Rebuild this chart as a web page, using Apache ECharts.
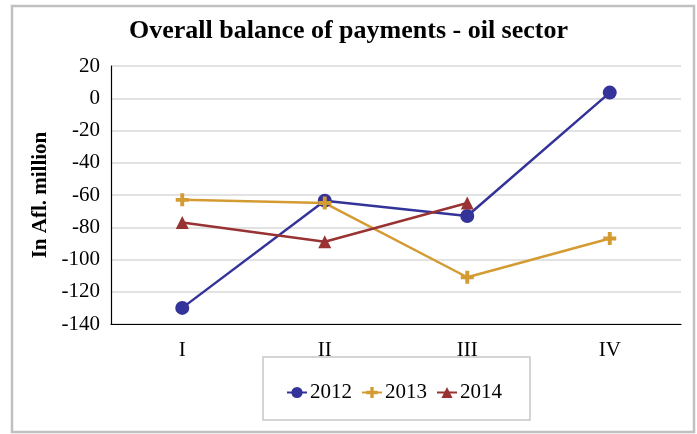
<!DOCTYPE html>
<html><head><meta charset="utf-8">
<script src="https://cdn.jsdelivr.net/npm/echarts@6/dist/echarts.min.js"></script>
<style>html,body{margin:0;padding:0;background:#fff}#c{width:697px;height:434px}</style>
</head><body><div id="c"></div>
<script>
const categories = ['I', 'II', 'III', 'IV'];
const s2012 = [-130, -63.5, -73, 3.5];
const s2013 = [-63, -65, -111, -87];
const s2014 = [-77, -89, -65, null];
const yTicks = { min: -140, max: 20, interval: 20 };
const title = 'Overall balance of payments - oil sector';
const yName = 'In Afl. million';

const FONT = '"Liberation Serif","Times New Roman",serif';
const plus = 'path://M3.5,0 H6.5 V3.5 H10 V6.5 H6.5 V10 H3.5 V6.5 H0 V3.5 H3.5 Z';
const chart = echarts.init(document.getElementById('c'), null, {renderer: 'canvas'});
chart.setOption({
  animation: false,
  backgroundColor: '#fff',
  title: {
    text: title, left: 'center', top: 13,
    textStyle: {fontFamily: FONT, fontWeight: 'bold', fontSize: 26, color: '#000'}
  },
  graphic: [
    {type: 'rect', shape: {x: 12, y: 6, width: 682, height: 426}, style: {fill: null, stroke: '#c0c0c0', lineWidth: 2.5}, silent: true, z: -1},
    {type: 'rect', shape: {x: 263, y: 357, width: 267, height: 63}, style: {fill: '#fff', stroke: '#c8c8c8', lineWidth: 1.5}, silent: true, z: 0}
  ],
  legend: {
    left: 281, top: 377, itemGap: 9, itemWidth: 20, itemHeight: 14, z: 10,
    textStyle: {fontFamily: FONT, fontSize: 21, color: '#000', padding: [0, 0, 0, -2]},
    data: ['2012', '2013', '2014']
  },
  grid: {left: 111, right: 16, top: 66, bottom: 110, containLabel: false},
  xAxis: {
    type: 'category', data: categories, boundaryGap: true,
    axisLine: {show: true, onZero: false, lineStyle: {color: '#000', width: 1.2}},
    axisTick: {show: false},
    axisLabel: {fontFamily: FONT, fontSize: 21, color: '#000', margin: 16}
  },
  yAxis: {
    type: 'value', min: yTicks.min, max: yTicks.max, interval: yTicks.interval,
    name: yName, nameLocation: 'middle', nameGap: 60, nameRotate: 90,
    nameTextStyle: {fontFamily: FONT, fontWeight: 'bold', fontSize: 21, color: '#000'},
    axisLine: {show: true, lineStyle: {color: '#000', width: 1.2}},
    axisTick: {show: false},
    axisLabel: {fontFamily: FONT, fontSize: 21, color: '#000', margin: 11},
    splitLine: {show: true, lineStyle: {color: '#d9d9d9', width: 1.5}}
  },
  series: [
    {name: '2012', type: 'line', data: s2012, symbol: 'circle', symbolSize: 14,
     itemStyle: {color: '#333399'}, lineStyle: {color: '#333399', width: 2.5}},
    {name: '2013', type: 'line', data: s2013, symbol: plus, symbolSize: 13,
     itemStyle: {color: '#D49B33'}, lineStyle: {color: '#D49B33', width: 2.5}},
    {name: '2014', type: 'line', data: s2014, symbol: 'triangle', symbolSize: 13,
     itemStyle: {color: '#993333'}, lineStyle: {color: '#993333', width: 2.5}}
  ]
});
</script></body></html>
